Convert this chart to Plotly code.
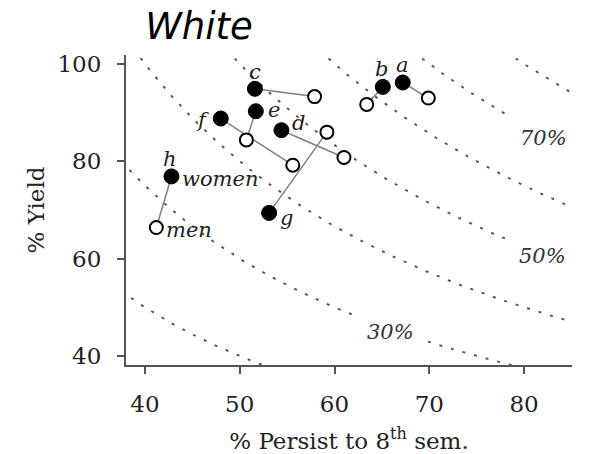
import numpy as np
import plotly.graph_objects as go

# ---- data ----
schools = ['a', 'b', 'c', 'd', 'e', 'f', 'g', 'h']
women_persist = [67.2, 65.1, 51.6, 54.4, 51.7, 48.0, 53.1, 42.8]
women_yield = [96.2, 95.3, 94.9, 86.4, 90.3, 88.8, 69.4, 76.9]
men_persist = [69.9, 63.4, 57.9, 61.0, 50.7, 55.6, 59.2, 41.2]
men_yield = [93.0, 91.7, 93.3, 80.8, 84.4, 79.2, 86.0, 66.4]

# iso-graduation curves (persist x yield = level)
iso_levels = [20, 30, 40, 50, 60, 70, 80]
iso_labels = ['30%', '50%', '70%']
iso_label_persist = [65.9, 81.9, 82.0]

x_tick_vals = [40, 50, 60, 70, 80]
y_tick_vals = [40, 60, 80, 100]

XR = [38.0, 85.06]
YR = [38.15, 101.85]

SERIF = "DejaVu Serif"
fig = go.Figure()

# iso curves
for lv in iso_levels:
    xs = np.linspace(max(XR[0], lv * 100 / YR[1]) - 0.5, min(XR[1], lv * 100 / YR[0]) + 0.5, 300)
    ys = lv * 100 / xs
    fig.add_trace(go.Scatter(x=xs, y=ys, mode='lines',
                             line=dict(color='#555555', width=1.9, dash='3px,9px'),
                             hoverinfo='skip', showlegend=False))

# connectors
for i in range(len(schools)):
    fig.add_trace(go.Scatter(x=[women_persist[i], men_persist[i]],
                             y=[women_yield[i], men_yield[i]],
                             mode='lines', line=dict(color='#808080', width=1.5),
                             hoverinfo='skip', showlegend=False))

fig.add_trace(go.Scatter(x=men_persist, y=men_yield, mode='markers', name='men',
                         marker=dict(size=13, color='white', line=dict(color='black', width=2)),
                         showlegend=False))
fig.add_trace(go.Scatter(x=women_persist, y=women_yield, mode='markers', name='women',
                         marker=dict(size=15, color='black', line=dict(color='black', width=1)),
                         showlegend=False))

label_font = dict(family=SERIF, size=21, color='#222', style='italic')
offsets = {'a': (0, 18), 'b': (-1, 18), 'c': (0, 17), 'd': (17, 7),
           'e': (18, 1), 'f': (-18, -1), 'g': (17, -5), 'h': (-1, 17)}
for i, s in enumerate(schools):
    dx, dy = offsets[s]
    fig.add_annotation(x=women_persist[i], y=women_yield[i], text=s, showarrow=False,
                       xshift=dx, yshift=dy, font=label_font)

hi = schools.index('h')
fig.add_annotation(x=women_persist[hi], y=women_yield[hi], text='women', showarrow=False,
                   xanchor='left', xshift=9, yshift=-3, font=label_font)
fig.add_annotation(x=men_persist[hi], y=men_yield[hi], text='men', showarrow=False,
                   xanchor='left', xshift=8, yshift=-2, font=label_font)

# iso labels (mask the curve behind them)
for lab, xp in zip(iso_labels, iso_label_persist):
    lv = float(lab.strip('%'))
    fig.add_annotation(x=xp, y=lv * 100 / xp - 0.6, text=lab, showarrow=False,
                       font=dict(family=SERIF, size=21, color='#333', style='italic'),
                       bgcolor='white', borderpad=11)

axis_common = dict(showline=True, linecolor='#555', linewidth=2, ticks='outside',
                   ticklen=7, tickwidth=1.5, tickcolor='#555', showgrid=False,
                   zeroline=False, automargin=False,
                   tickfont=dict(family=SERIF, size=23, color='#222'))

fig.update_layout(
    width=590, height=454,
    margin=dict(l=126, r=18, t=55, b=89),
    plot_bgcolor='white', paper_bgcolor='white',
    title=dict(text='White', x=199 / 590, xanchor='center', y=1 - 26 / 454, yanchor='middle',
               font=dict(family='DejaVu Sans', size=37, color='black', style='italic')),
    xaxis=dict(range=XR, tickvals=x_tick_vals, ticklabelstandoff=10,
               title=dict(text='% Persist to 8<sup>th</sup> sem.', standoff=17,
                          font=dict(family=SERIF, size=23, color='#222')),
               **axis_common),
    yaxis=dict(range=YR, tickvals=y_tick_vals, ticklabelstandoff=11,
               title=dict(text='% Yield', standoff=6,
                          font=dict(family=SERIF, size=23, color='#222')),
               **axis_common),
)

fig.write_html("out.html", config={'displayModeBar': False},
               post_script="document.body.style.margin='0';document.body.style.overflow='hidden';")
